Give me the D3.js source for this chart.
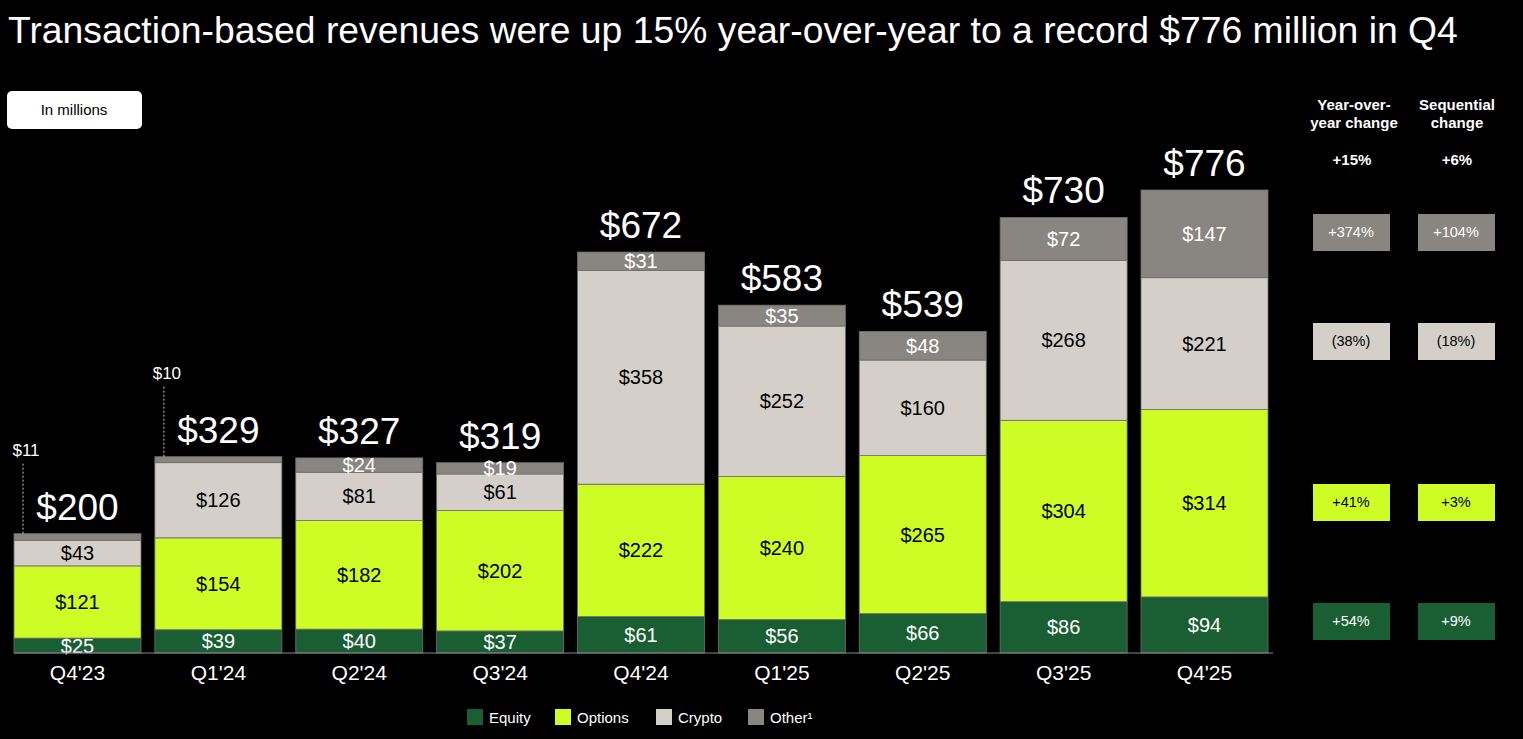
<!DOCTYPE html><html><head><meta charset="utf-8">
<script src="https://cdn.jsdelivr.net/npm/d3@7"></script>
<style>body{margin:0;background:#000}svg{display:block}text{font-family:"Liberation Sans",Arial,sans-serif}</style></head><body>
<script>
const quarters=["Q4'23","Q1'24","Q2'24","Q3'24","Q4'24","Q1'25","Q2'25","Q3'25","Q4'25"];
const equity=[25,39,40,37,61,56,66,86,94];
const options=[121,154,182,202,222,240,265,304,314];
const crypto=[43,126,81,61,358,252,160,268,221];
const other=[11,10,24,19,31,35,48,72,147];
const totals=[200,329,327,319,672,583,539,730,776];
const seriesNames=["Equity","Options","Crypto","Other¹"];
const yoy=["+54%","+41%","(38%)","+374%"];
const seq=["+9%","+3%","(18%)","+104%"];
const colors=["#1a5e34","#cdfd25","#d4d0c9","#898580"];
const labelColors=["#fff","#000","#000","#fff"];

const W=1523,H=739;
const svg=d3.select("body").append("svg").attr("width",W).attr("height",H);
svg.append("text").attr("x",8).attr("y",43).attr("fill","#fff").attr("font-size",37.3).text("Transaction-based revenues were up 15% year-over-year to a record $776 million in Q4");
svg.append("rect").attr("x",7).attr("y",91).attr("width",135).attr("height",38).attr("rx",5).attr("fill","#fff");
svg.append("text").attr("x",74).attr("y",115).attr("text-anchor","middle").attr("font-size",15).text("In millions");

const x=d3.scaleBand().domain(quarters).range([14,1268]).paddingInner(0.0985).paddingOuter(0);
const y=d3.scaleLinear().domain([0,776]).range([653,190]);
const rows=quarters.map((q,i)=>({q,Equity:equity[i],Options:options[i],Crypto:crypto[i],"Other¹":other[i]}));
const stack=d3.stack().keys(seriesNames)(rows);
const bw=x.bandwidth();
stack.forEach((s,k)=>{
  const g=svg.append("g");
  s.forEach((d,i)=>{
    const x0=x(quarters[i]);
    g.append("rect").attr("x",x0).attr("y",y(d[1])).attr("width",bw).attr("height",y(d[0])-y(d[1]))
      .attr("fill",colors[k]).attr("stroke","#6f6f6f").attr("stroke-width",0.8);
    const v=d[1]-d[0];
    const small=(k===3&&v<15);
    if(!small){
      g.append("text").attr("x",x0+bw/2).attr("y",(y(d[0])+y(d[1]))/2+7).attr("text-anchor","middle")
        .attr("font-size",20).attr("fill",labelColors[k]).text("$"+v);
    }else{
      const lx=x0+9;
      svg.append("line").attr("x1",lx).attr("x2",lx).attr("y1",y(d[1])).attr("y2",y(d[1])-72)
        .attr("stroke","#ccc").attr("stroke-dasharray","2,2");
      svg.append("text").attr("x",lx+3).attr("y",y(d[1])-78).attr("text-anchor","middle").attr("font-size",17).attr("fill","#fff").text("$"+v);
    }
  });
});
totals.forEach((t,i)=>{
  svg.append("text").attr("x",x(quarters[i])+bw/2).attr("y",y(t)-14).attr("text-anchor","middle")
    .attr("font-size",37).attr("fill","#fff").text("$"+t);
});
const ax=svg.append("g").attr("transform","translate(0,653)").call(d3.axisBottom(x).tickSize(0).tickPadding(12));
ax.select(".domain").attr("stroke","#888").attr("d","M14,0H1273");
ax.selectAll("text").attr("fill","#fff").attr("font-size",21).attr("font-family","Liberation Sans, Arial");

svg.append("text").attr("x",1352).attr("y",110).attr("text-anchor","middle").attr("fill","#fff").attr("font-size",15).attr("font-weight","bold")
  .selectAll("tspan").data(["Year-over-","year change"]).join("tspan").attr("x",1354).attr("dy",(d,i)=>i?18:0).text(d=>d);
svg.append("text").attr("x",1457).attr("y",110).attr("text-anchor","middle").attr("fill","#fff").attr("font-size",15).attr("font-weight","bold")
  .selectAll("tspan").data(["Sequential","change"]).join("tspan").attr("x",1457).attr("dy",(d,i)=>i?18:0).text(d=>d);
svg.append("text").attr("x",1352).attr("y",165).attr("text-anchor","middle").attr("fill","#fff").attr("font-size",15).attr("font-weight","bold").text("+15%");
svg.append("text").attr("x",1457).attr("y",165).attr("text-anchor","middle").attr("fill","#fff").attr("font-size",15).attr("font-weight","bold").text("+6%");
const boxY=[622,503,342,233];
[yoy,seq].forEach((arr,c)=>{
  const cx=c?1456:1351;
  arr.forEach((t,k)=>{
    svg.append("rect").attr("x",cx-38).attr("y",boxY[k]-19).attr("width",77).attr("height",37).attr("fill",colors[k]);
    svg.append("text").attr("x",cx).attr("y",boxY[k]+4).attr("text-anchor","middle").attr("font-size",14.5).attr("fill",labelColors[k]).text(t);
  });
});
const lx=[467,555,656,748];
seriesNames.forEach((n,k)=>{
  svg.append("rect").attr("x",lx[k]).attr("y",709).attr("width",16).attr("height",16).attr("fill",colors[k]);
  svg.append("text").attr("x",lx[k]+22).attr("y",723).attr("fill","#fff").attr("font-size",15).text(n);
});
</script></body></html>
